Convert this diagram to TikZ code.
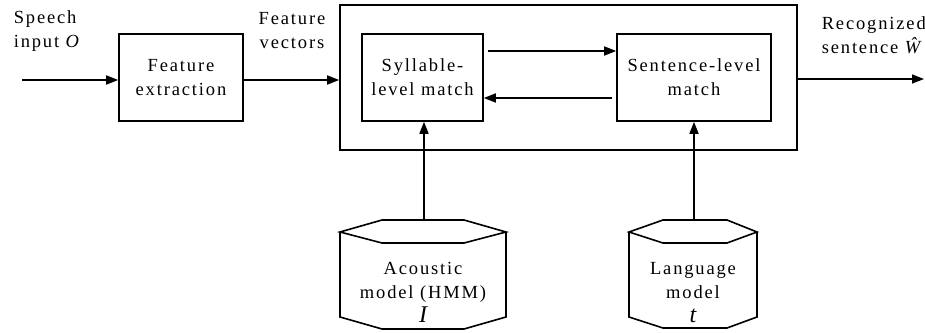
\documentclass[tikz,border=0pt]{standalone}
\usepackage{fontspec}
\setmainfont{Liberation Serif}[LetterSpace=10]
\usetikzlibrary{arrows.meta}
\begin{document}
\begin{tikzpicture}[x=1pt, y=-1pt, line width=1.6pt,
  txt/.style={font=\fontsize{18.5}{24}\selectfont, inner sep=0pt},
  blk/.style={draw, txt, align=center, minimum height=87pt},
  arr/.style={-{Triangle[length=12pt,width=9pt]}},
  store/.style={draw, line join=miter}]

\useasboundingbox (0,0) rectangle (925,332);

% processing blocks
\node[blk, minimum width=124pt] (fe) at (181,77.5) {Feature\\extraction};
\node[draw, inner sep=0pt, minimum width=457pt, minimum height=145pt] (outer) at (568.5,77.5) {};
\node[blk, minimum width=121pt] (syl) at (422.5,77.5) {Syllable-\\level match};
\node[blk, minimum width=154pt] (sen) at (694,77.5) {Sentence-level\\match};

% free labels (base = baseline of the last line)
\node[txt, align=left, anchor=base west] (lblIn) at (13,47) {Speech\\input \textit{O}};
\node[txt, align=center, anchor=base] (lblFv) at (292,48) {Feature\\vectors};
\node[txt, align=left, anchor=base west] (lblOut) at (821,53) {Recognized\\sentence \textit{Ŵ}};

% model stores (drums)
\path[store] (340,232) -- (382,220) -- (464,220) -- (506,232) -- (464,243) -- (382,243) -- cycle;
\path[store] (340,232) -- (340,317) -- (382,329) -- (464,329) -- (506,317) -- (506,232);
\node[txt, align=center, anchor=base] (am) at (423,322) {Acoustic\\model (HMM)\\{\fontsize{24}{24}\selectfont\itshape I}};
\coordinate (amTop) at (424,220);

\path[store] (629,232) -- (663,220) -- (727,220) -- (757,232) -- (727,243) -- (663,243) -- cycle;
\path[store] (629,232) -- (629,317) -- (663,328) -- (727,328) -- (757,317) -- (757,232);
\node[txt, align=center, anchor=base] (lm) at (693,322) {Language\\model\\{\fontsize{24}{24}\selectfont\itshape t}};
\coordinate (lmTop) at (694,220);

% feedback rows between the two matchers
\coordinate (fwd) at ([xshift=4pt, yshift=26.5pt]syl.east);
\coordinate (bwd) at ([xshift=-4pt, yshift=-20.5pt]sen.west);

% signal flow
\coordinate (inStart) at (22,80);
\coordinate (outEnd) at (924,79);
\draw[arr] (inStart) -- (inStart -| fe.west);
\draw[arr] (fe.east |- inStart) -- (outer.west |- inStart);
\draw[arr] (fwd) -- (sen.west |- fwd);
\draw[arr] (bwd) -- (syl.east |- bwd);
\draw[arr] (outer.east |- outEnd) -- (outEnd);
\draw[arr] (amTop) -- (amTop |- syl.south);
\draw[arr] (lmTop) -- (lmTop |- sen.south);
\end{tikzpicture}
\end{document}
